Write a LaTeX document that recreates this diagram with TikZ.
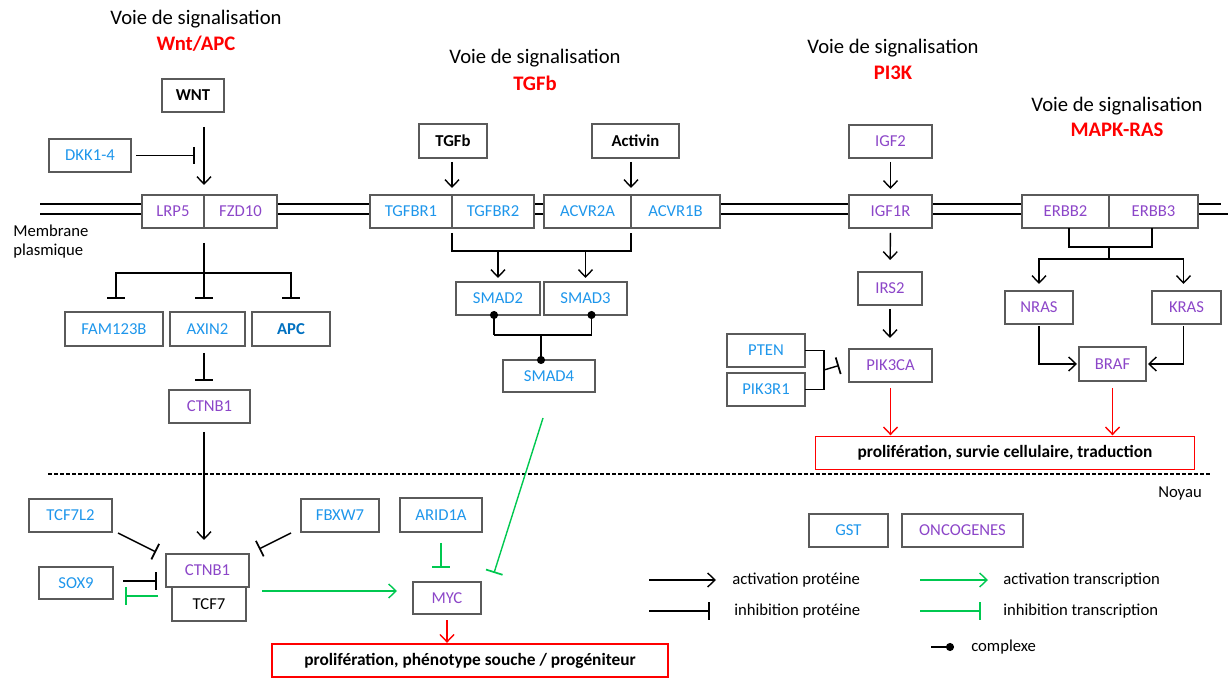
\documentclass[tikz,border=0pt]{standalone}
\usepackage{fontspec}
\setmainfont{Carlito}
\usetikzlibrary{arrows.meta,calc}
\definecolor{gblue}{RGB}{30,150,235}
\definecolor{gdblue}{RGB}{0,112,192}
\definecolor{gpurple}{RGB}{140,70,200}
\definecolor{gred}{RGB}{255,0,0}
\definecolor{ggreen}{RGB}{0,200,80}
\definecolor{gframe}{RGB}{90,90,90}
\tikzset{
  box/.style={draw=gframe, line width=0.85pt, inner sep=0pt, outer sep=0pt,
    font=\fontsize{12.5}{14}\selectfont, minimum height=24.75pt},
  bw/.style={minimum width=#1*0.75pt},
  bh/.style={minimum height=#1*0.75pt},
  gst/.style={box, text=gblue},
  onc/.style={box, text=gpurple},
  lig/.style={box, font=\fontsize{12.5}{14}\selectfont\bfseries},
  outcome/.style={draw=gred, line width=1.2pt, inner sep=0pt, outer sep=0pt,
    minimum height=25pt, font=\fontsize{13}{15}\selectfont\bfseries},
  ln/.style={line width=1.05pt},
  act/.style={ln, -{Straight Barb[length=5.5pt,width=10.5pt,line width=1.05pt]}},
  inh/.style={ln, -{Bar[width=13pt,line width=1.3pt]}},
  gact/.style={act, draw=ggreen},
  ginh/.style={inh, draw=ggreen},
  ract/.style={act, draw=gred},
  cplx/.style={ln, -{Circle[length=6pt]}},
  ttl/.style={font=\fontsize{15.5}{18}\selectfont, inner sep=0pt},
  ttlr/.style={font=\fontsize{15.5}{18}\selectfont\bfseries, text=gred, inner sep=0pt},
  lbl/.style={font=\fontsize{12.5}{14}\selectfont, inner sep=0pt},
  mem/.style={line width=1.05pt},
}
\begin{document}
\begin{tikzpicture}[x=0.75pt,y=-0.75pt]
\useasboundingbox (0,0) rectangle (1228,680);

% ---------- titles ----------
\node[ttl] (t1) at (196,19) {Voie de signalisation};
\node[ttlr] (t1r) at (196,44) {Wnt/APC};
\node[ttl] (t2) at (535,58) {Voie de signalisation};
\node[ttlr] (t2r) at (535,83) {TGFb};
\node[ttl] (t3) at (893,48) {Voie de signalisation};
\node[ttlr] (t3r) at (893,73) {PI3K};
\node[ttl] (t4) at (1117,106) {Voie de signalisation};
\node[ttlr] (t4r) at (1117,130) {MAPK-RAS};

% ---------- membrane ----------
\foreach \a/\b in {40/142, 277/370, 534/544, 720/849, 932/1022}{
  \draw[mem] (\a,204) -- (\b,204);
  \draw[mem] (\a,214) -- (\b,214);
}
\draw[mem] (1198,204) -- (1221,204);
\draw[mem] (1198,214) -- (1228,214);
\node[lbl, anchor=west, align=left, font=\fontsize{12.5}{14.25}\selectfont] (memlbl) at (13,241.5) {Membrane\\plasmique};

% ---------- nucleus boundary ----------
\draw[line width=0.8pt, dash pattern=on 3pt off 1.5pt] (48,474) -- (1212,474);
\node[lbl] (noyau) at (1180,493) {Noyau};

% ---------- Wnt/APC pathway ----------
\node[lig, bw=62] (wnt) at (193,95.5) {WNT};
\node[gst, bw=82] (dkk) at (90,155.5) {DKK1-4};
\node[onc, bw=62] (lrp5) at (173,211.5) {LRP5};
\node[onc, bw=73] (fzd10) at (240.5,211.5) {FZD10};
\node[gst, bw=98, bh=34] (fam) at (114,329) {FAM123B};
\node[gst, bw=75, bh=34] (axin2) at (207.5,329) {AXIN2};
\node[box, bw=78, bh=34, text=gdblue, font=\fontsize{12.5}{14}\selectfont\bfseries] (apc) at (291,329) {APC};
\node[onc, bw=81] (ctnbc) at (209.5,406.5) {CTNB1};

\draw[act, shorten <=11.25pt, shorten >=7.5pt] (wnt.south -| lrp5.north east) -- (lrp5.north east);
\draw[inh, shorten <=3.75pt, shorten >=6.75pt] (dkk.east) -- (dkk.east -| lrp5.north east);
\coordinate (wb) at ($(lrp5.south east)+(0,45)$);
\draw[ln, shorten <=11.25pt] (lrp5.south east) -- (wb);
\draw[inh] (wb) -| ($(fam.north)+(2,-13)$);
\draw[inh] (wb) -| ($(apc.north)+(0,-13)$);
\draw[inh] (wb) -- ($(axin2.north -| wb)+(0,-13)$);
\draw[inh, shorten <=5.25pt, shorten >=6.75pt] (axin2.south -| wb) -- (ctnbc.north -| wb);

% ---------- TGFb pathway ----------
\node[lig, bw=68, bh=34] (tgfb) at (453,141) {TGFb};
\node[lig, bw=87, bh=34] (activin) at (635.5,141) {Activin};
\node[gst, bw=82] (tgfbr1) at (411,211.5) {TGFBR1};
\node[gst, bw=82] (tgfbr2) at (493,211.5) {TGFBR2};
\node[gst, bw=87] (acvr2a) at (587.5,211.5) {ACVR2A};
\node[gst, bw=89] (acvr1b) at (675.5,211.5) {ACVR1B};
\node[gst, bw=84] (smad2) at (498,298.5) {SMAD2};
\node[gst, bw=83] (smad3) at (585.5,298.5) {SMAD3};
\node[gst, bw=92, bh=32] (smad4) at (549,376) {SMAD4};

\draw[act, shorten <=3pt, shorten >=5.25pt] (tgfb.south -| tgfbr1.north east) -- (tgfbr1.north east);
\draw[act, shorten <=3pt, shorten >=5.25pt] (activin.south -| acvr2a.north east) -- (acvr2a.north east);
\coordinate (tgy) at ($(tgfbr1.south east)+(0,23)$);
\draw[ln] ($(tgfbr1.south east)+(0,5)$) -- (tgy) -- (tgy -| acvr2a.south east) -- ($(acvr2a.south east)+(0,5)$);
\draw[act, shorten >=3pt] (smad2.north |- tgy) -- (smad2.north);
\draw[act, shorten >=3pt] (smad3.north |- tgy) -- (smad3.north);
\coordinate (cy) at ($(smad2.south)+(0,20)$);
\draw[ln] ($(cy)+(-4,0)$) -- ($(cy -| smad3.south)+(6,0)$);
\draw[cplx, shorten >=-3pt] ($(cy)+(-4,0)$) -- ($(smad2.south)+(-4,0)$);
\draw[cplx, shorten >=-3pt] ($(cy -| smad3.south)+(6,0)$) -- ($(smad3.south)+(6,0)$);
\draw[cplx, shorten >=-3pt] ($(cy -| smad4.north)+(-8,0)$) -- ($(smad4.north)+(-8,0)$);

% ---------- PI3K pathway ----------
\node[onc, bw=83] (igf2) at (890.5,141.5) {IGF2};
\node[onc, bw=83] (igf1r) at (890.5,211.5) {IGF1R};
\node[onc, bw=64] (irs2) at (890,288.5) {IRS2};
\node[onc, bw=83] (pik3ca) at (890.5,365.5) {PIK3CA};
\node[gst, bw=78] (pten) at (766,350.5) {PTEN};
\node[gst, bw=78] (pik3r1) at (766,389.5) {PIK3R1};
\node[outcome, minimum width=284.5pt] (out1) at (1005,453) {prolifération, survie cellulaire, traduction};

\draw[act, shorten <=3pt, shorten >=4.5pt] (igf2.south) -- (igf1r.north);
\draw[act, shorten <=3.75pt, shorten >=9pt] (igf1r.south) -- (irs2.north);
\draw[act, shorten <=3pt, shorten >=8.25pt] (irs2.south) -- (irs2.south |- pik3ca.north);
\draw[ln] (pten.east) -| ($(pik3r1.east)+(19,0)$) -- (pik3r1.east);
\draw[inh] ($(pten.east)!0.5!(pik3r1.east)+(19,0)$) -- ($(pik3ca.west)+(-10,0)$);
\draw[ract, shorten <=4.5pt, shorten >=0.75pt] (pik3ca.south) -- (pik3ca.south |- out1.north);

% ---------- MAPK-RAS pathway ----------
\node[onc, bw=87] (erbb2) at (1065.5,211.5) {ERBB2};
\node[onc, bw=89] (erbb3) at (1153.5,211.5) {ERBB3};
\node[onc, bw=68] (nras) at (1039,307.5) {NRAS};
\node[onc, bw=69] (kras) at (1186.5,307.5) {KRAS};
\node[onc, bw=67, bh=34] (braf) at (1112.5,364) {BRAF};

\draw[ln] ($(erbb2.south)+(3.5,0)$) -- ($(erbb2.south)+(3.5,19)$) -- ($(erbb3.south)+(-1.5,19)$) -- ($(erbb3.south)+(-1.5,0)$);
\coordinate (mk) at ($(erbb2.south east)+(0,31)$);
\draw[ln] ($(erbb2.south east)+(0,19)$) -- (mk);
\draw[act, shorten >=5.25pt] (mk) -| (nras.north);
\draw[act, shorten >=5.25pt] (mk) -| ($(kras.north)+(-3,0)$);
\draw[act, shorten <=1.5pt, shorten >=1.5pt] (nras.south) |- (braf.west);
\draw[act, shorten <=1.5pt, shorten >=1.5pt] ($(kras.south)+(-3,0)$) |- (braf.east);
\draw[ract, shorten <=5.25pt, shorten >=0.75pt] (braf.south) -- (braf.south |- out1.north);

% ---------- nucleus ----------
\node[gst, bw=83] (tcf7l2) at (70.5,515.5) {TCF7L2};
\node[gst, bw=78] (fbxw7) at (340,515.5) {FBXW7};
\node[gst, bw=82, bh=34] (arid1a) at (441,515) {ARID1A};
\node[gst, bw=74, bh=32] (sox9) at (76,583) {SOX9};
\node[box, bw=74, bh=34] (tcf7) at (209,604) {TCF7};
\node[onc, bw=83, fill=white] (ctnbn) at (207.5,570.5) {CTNB1};
\node[onc, bw=68, bh=32] (myc) at (447,598) {MYC};
\node[outcome, minimum width=297pt] (out2) at (470,660.5) {prolifération, phénotype souche / progéniteur};

\draw[act, shorten <=6.75pt, shorten >=10.5pt] (ctnbc.south -| wb) -- (ctnbn.north -| wb);
\draw[inh] ($(tcf7l2.south east)+(6,1)$) -- ($(ctnbn.west)+(-10,-18.5)$);
\draw[inh] ($(fbxw7.south west)+(-10,1)$) -- ($(ctnbn.east)+(10,-21.5)$);
\draw[inh] ($(sox9.east)+(10,-2)$) -- ($(ctnbn.south west)+(-9,-6)$);
\draw[ginh] ($(ctnbn.south west)+(-8,9)$) -- ($(sox9.east)+(12,13)$);
\draw[gact] ($(tcf7.north east)+(16,4)$) -- ($(myc.west)+(-16,-7)$);
\draw[ginh, shorten <=8.25pt, shorten >=10.5pt] (arid1a.south) -- (arid1a.south |- myc.north);
\draw[ginh] ($(smad4.south)+(-6,26)$) -- ($(myc.north east)+(13,-9)$);
\draw[ract, shorten <=4.5pt, shorten >=0.75pt] (myc.south) -- (myc.south |- out2.north);

% ---------- key ----------
\node[gst, bw=79] (keygst) at (848.5,530.5) {GST};
\node[onc, bw=121] (keyonc) at (962.5,530.5) {ONCOGENES};
\node[lbl, anchor=west] (k1) at (732,580) {activation protéine};
\node[lbl, anchor=west] (k2) at (734,611) {inhibition protéine};
\node[lbl, anchor=west] (k3) at (1003,580) {activation transcription};
\node[lbl, anchor=west] (k4) at (1003,611) {inhibition transcription};
\node[lbl, anchor=west] (k5) at (971,647) {complexe};
\draw[act] ($(k1.west)+(-83,0)$) -- ($(k1.west)+(-16,0)$);
\draw[inh] ($(k2.west)+(-85,0)$) -- ($(k2.west)+(-24,0)$);
\draw[gact] ($(k3.west)+(-83,0)$) -- ($(k3.west)+(-15,0)$);
\draw[ginh] ($(k4.west)+(-83,0)$) -- ($(k4.west)+(-22,0)$);
\draw[cplx, shorten >=-3pt] ($(k5.west)+(-40,0)$) -- ($(k5.west)+(-21,0)$);
\end{tikzpicture}
\end{document}
